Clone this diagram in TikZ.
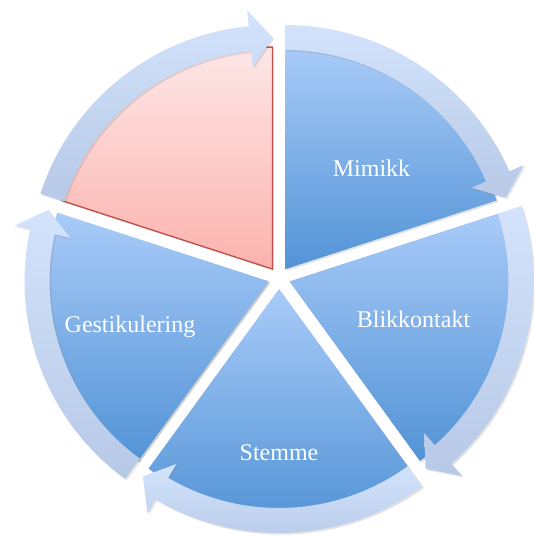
\documentclass[tikz,border=0pt]{standalone}
\usepackage{fontspec}
\setmainfont{Liberation Serif}
\usetikzlibrary{shadows}
\definecolor{wedgeTop}{HTML}{A9CBF8}
\definecolor{wedgeBottom}{HTML}{5293D6}
\definecolor{ringTop}{HTML}{D3E3FC}
\definecolor{ringBottom}{HTML}{B7C9E7}
\definecolor{roseTop}{HTML}{FDE7E7}
\definecolor{roseBottom}{HTML}{FCB2AD}
\definecolor{roseLine}{HTML}{C0504D}

\begin{document}
\begin{tikzpicture}[x=0.75pt, y=0.75pt,
    softshadow/.style={drop shadow={opacity=0.22, shadow xshift=1.2pt, shadow yshift=-1.2pt}},
    wedge/.style={softshadow, top color=wedgeTop, bottom color=wedgeBottom},
    rosewedge/.style={softshadow, top color=roseTop, bottom color=roseBottom, draw=roseLine, line width=1pt},
    ring/.style={softshadow, top color=ringTop, bottom color=ringBottom},
    word/.style={anchor=base, text=white, font=\fontsize{18}{20}\selectfont}]
    \useasboundingbox (-279,-261) rectangle (255,278);
    % segments, each pushed out along its middle
    \foreach \a [evaluate=\a as \m using \a-36, evaluate=\a as \b using \a-72] in {90,18,-54,-126}
        \path[wedge, shift={(\m:11)}] (0,0) -- (\a:222) arc[start angle=\a, end angle=\b, radius=222] -- cycle;
    \path[wedge, shift={(198:11)}] (0,0) -- (234:222) arc[start angle=234, end angle=162, radius=222] -- cycle;
    \path[rosewedge, shift={(126:11)}] (0,0) -- (162:222) arc[start angle=162, end angle=90, radius=222] -- cycle;
    % curved arrows round the cycle
    \foreach \a [evaluate=\a as \m using \a-36, evaluate=\a as \h using \a-66.4, evaluate=\a as \b using \a-72] in {162,90,18,-54,-126}
        \path[ring, shift={(\m:11)}] (\a:244) arc[start angle=\a, end angle=\h, radius=244]
            -- (\h:260) -- (\b:231.5) -- (\h:203) -- (\h:219)
            arc[start angle=\h, end angle=\a, radius=219] -- cycle;
    \node[word] (mimikk) at (92.5,101) {Mimikk};
    \node[word] (blikkontakt) at (134.5,-49) {Blikkontakt};
    \node[word] (stemme) at (0,-182) {Stemme};
    \node[word] (gestikulering) at (-149,-54) {Gestikulering};
\end{tikzpicture}
\end{document}
